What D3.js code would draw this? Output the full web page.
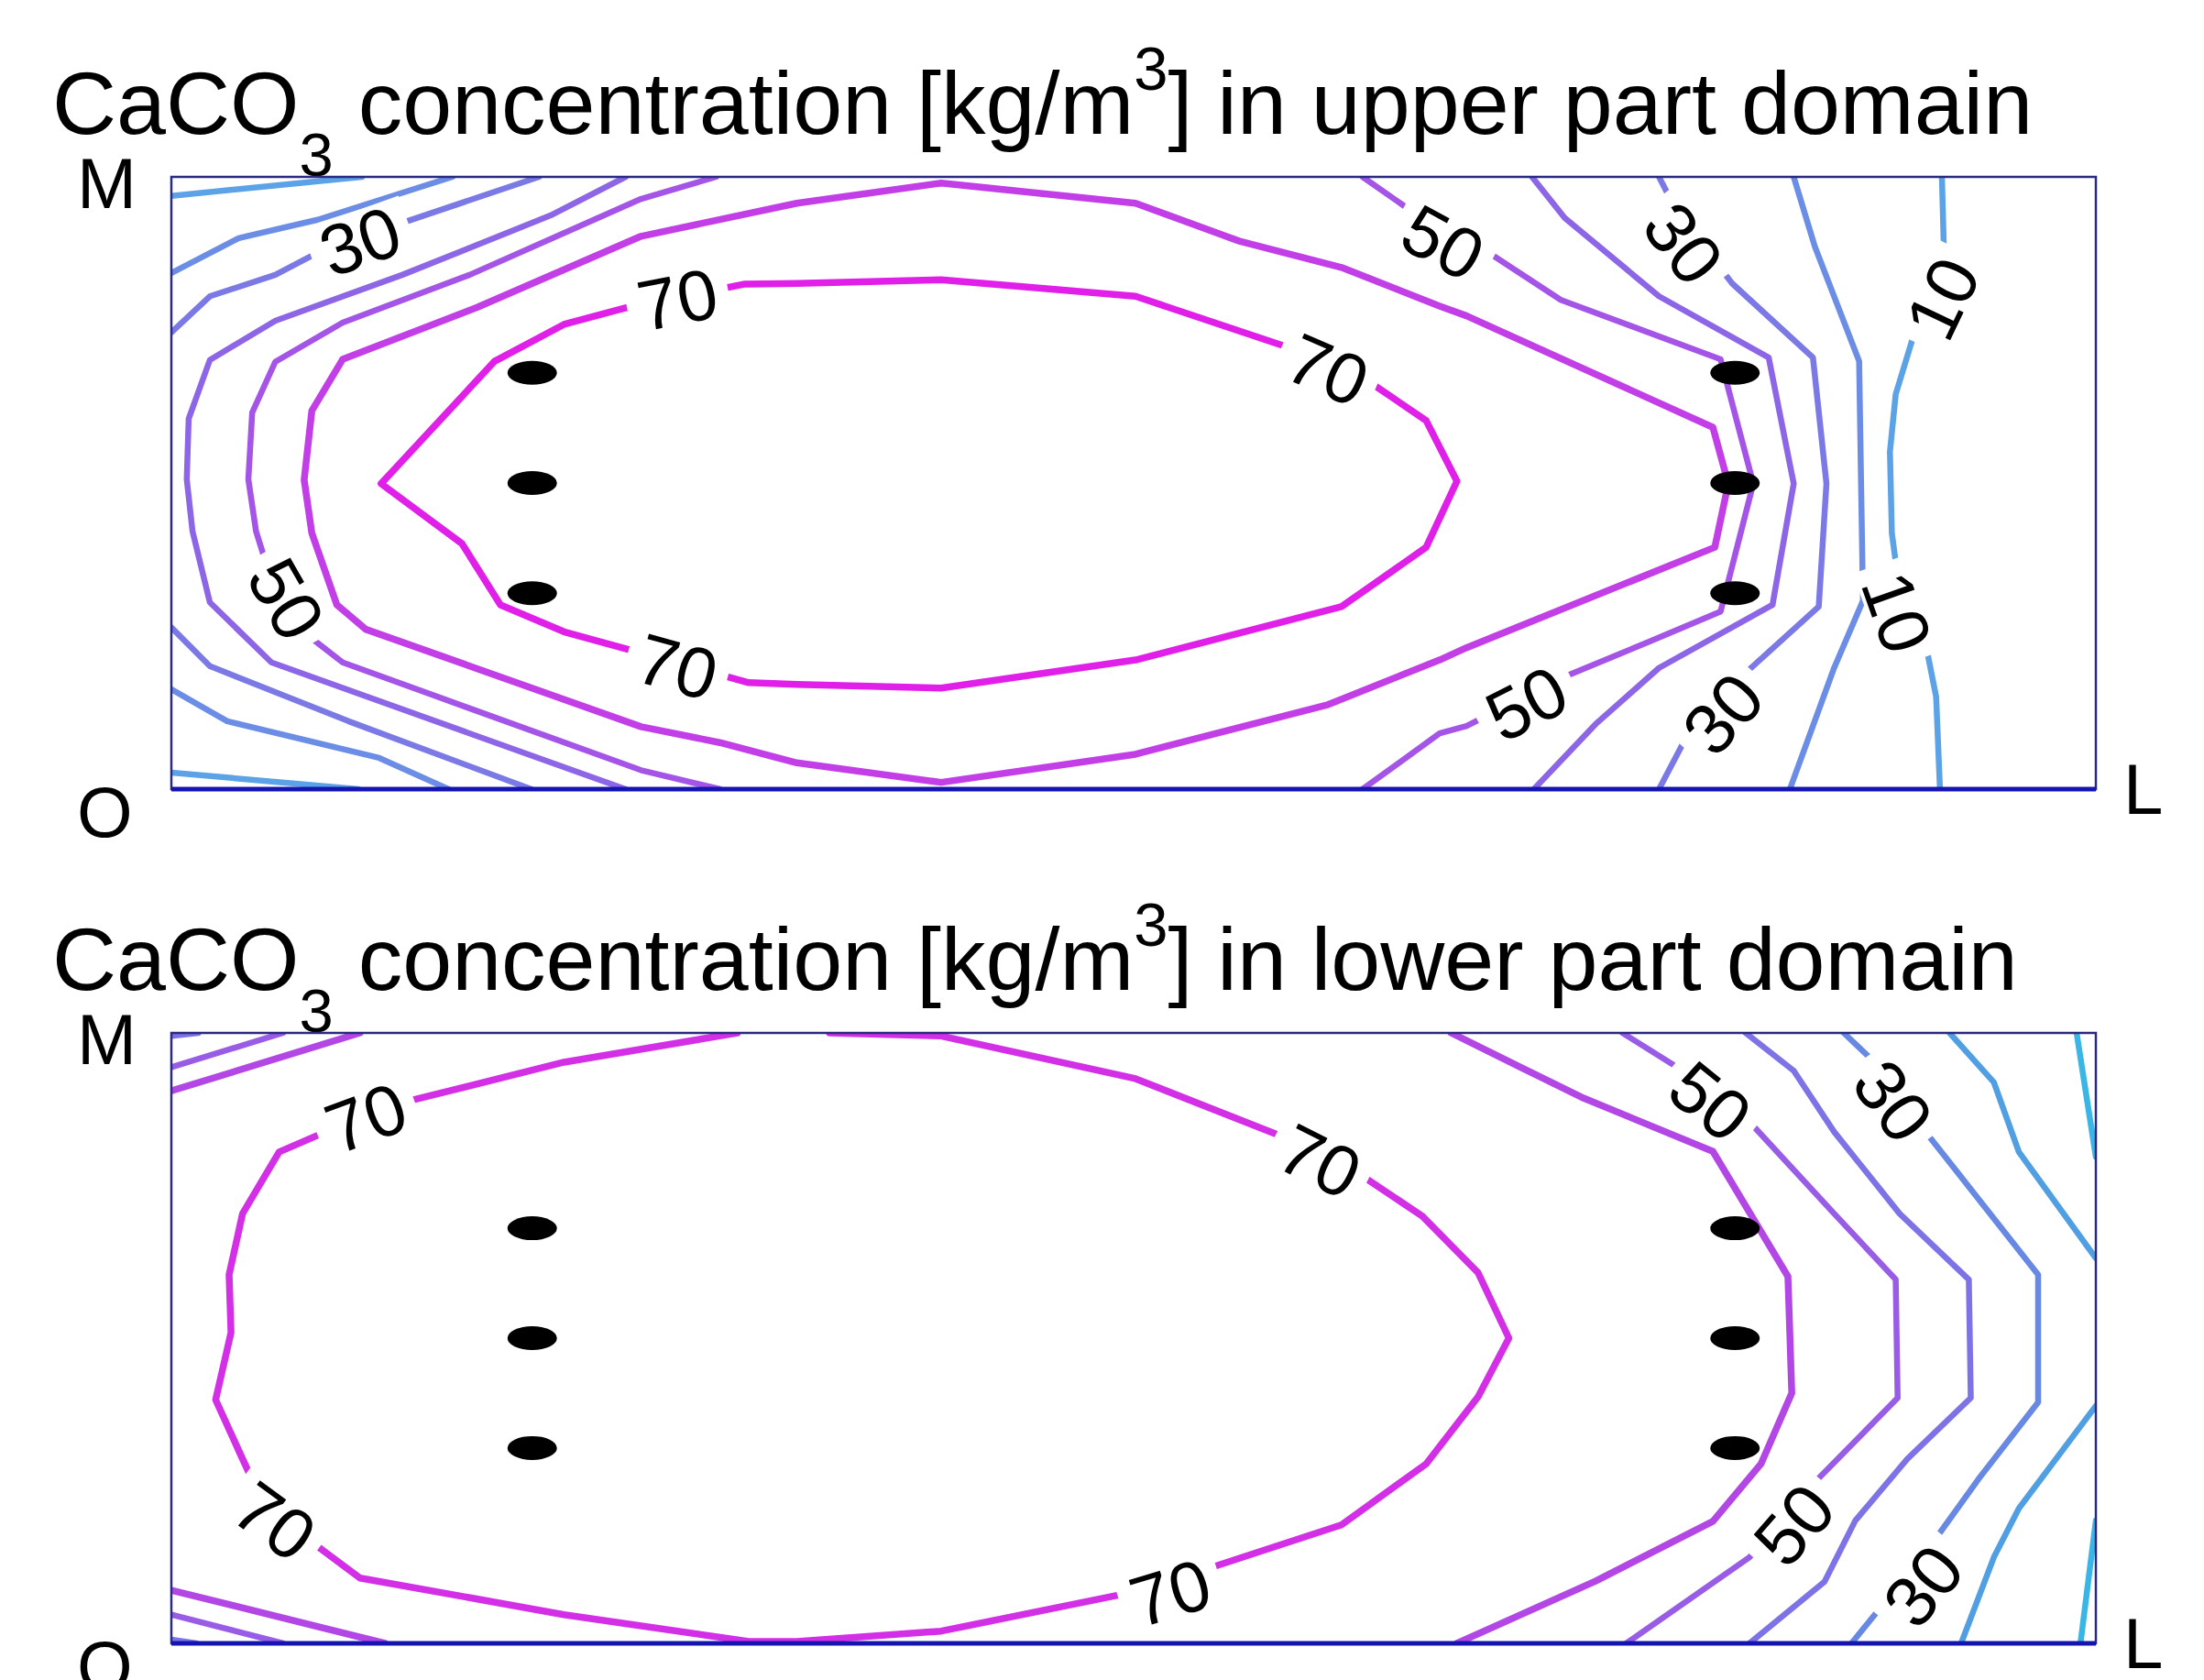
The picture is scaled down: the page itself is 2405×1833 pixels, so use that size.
<!DOCTYPE html>
<html>
<head>
<meta charset="utf-8">
<script src="https://cdn.jsdelivr.net/npm/d3@7"></script>
<style>
  body { margin: 0; background: #fff; }
  svg { display: block; }
  text { font-family: "Liberation Sans", Arial, sans-serif; fill: #000; }
</style>
</head>
<body>
<svg id="chart" width="2405" height="1833"></svg>
<script>
// contour levels and their colours (one colour ramp per panel)
const levels = [10, 20, 30, 40, 50, 60, 70];
const upperColors = ["#5ba2e6", "#6b8de6", "#7b79e6", "#8c66e6", "#a454e6", "#c23ee6", "#e01fe8"];
const lowerColors = ["#3ab6e6", "#519fe3", "#6789e3", "#7d73e6", "#985ce6", "#b247e6", "#d22fe6"];

// well positions, % of length (O-L) and % of height (O-M)
const wellsX = [18.75, 81.25];
const wellsY = [32, 50, 68];

// contour polylines: [level, [[x%, y%], ...]]
const upperContours = [
  [10, [[0, 96.9], [9.9, 100]]],
  [10, [[0, 2.7], [9.7, 0]]],
  [10, [[92.0, 100], [92.1, 88.5], [91.6, 81.0], [90.5, 73.8], [89.6, 64.5], [89.3, 55.1], [89.4, 41.8], [89.6, 37.1], [90.4, 30.1], [91.2, 23.0], [91.7, 15.1], [91.9, 0]]],
  [20, [[0, 84.3], [3.5, 90.0], [7.6, 93.0], [14.6, 100]]],
  [20, [[0, 16.3], [2.9, 11.1], [10.8, 5.1], [14.4, 0]]],
  [20, [[84.3, 100], [85.4, 88.6], [87.7, 69.9], [87.8, 49.9], [87.9, 30.8], [86.4, 19.8], [84.1, 0]]],
  [30, [[0, 74.6], [2.0, 80.5], [5.4, 84.0], [7.4, 87.3], [12.0, 92.5], [19.1, 100]]],
  [30, [[0, 26.4], [2.0, 20.1], [9.2, 11.1], [18.7, 0]]],
  [30, [[77.3, 100], [78.2, 94.5], [81.1, 82.6], [85.3, 70.5], [86.0, 49.9], [85.6, 29.8], [81.8, 19.0], [78.6, 7.8], [77.3, 0]]],
  [40, [[23.6, 100], [19.7, 93.7], [12.0, 84.0], [5.4, 76.5], [2.0, 70.1], [0.9, 60.5], [0.8, 50.6], [1.1, 42.1], [2.0, 30.5], [5.2, 20.7], [15.5, 9.1], [23.6, 0]]],
  [40, [[70.7, 100], [72.4, 93.3], [77.3, 80.5], [83.0, 70.5], [84.3, 49.9], [83.2, 30.1], [77.3, 19.8], [74.0, 10.6], [70.8, 0]]],
  [50, [[28.3, 100], [24.4, 96.4], [15.5, 84.0], [8.9, 76.2], [5.4, 69.8], [4.2, 61.5], [4.0, 50.6], [4.4, 42.1], [4.9, 37.1], [7.1, 25.1], [8.9, 20.7], [15.5, 13.2], [24.4, 3.1], [28.5, 0]]],
  [50, [[61.9, 100], [64.4, 94.5], [68.6, 87.3], [72.2, 79.9], [80.5, 70.2], [82.2, 49.9], [80.5, 29.0], [76.8, 24.1], [72.2, 18.1], [67.3, 10.3], [65.9, 9.1], [61.9, 0]]],
  [60, [[8.9, 70.2], [15.9, 78.7], [24.4, 90.3], [32.5, 95.7], [40.0, 99.0], [50.1, 95.7], [55.5, 89.5], [60.8, 85.2], [65.9, 78.9], [67.3, 77.3], [80.1, 59.1], [80.9, 49.9], [80.2, 39.5], [67.3, 23.1], [65.9, 21.1], [60.1, 13.8], [50.1, 5.7], [40.0, 1.1], [32.5, 4.3], [28.5, 7.6], [24.4, 10.2], [15.5, 20.1], [10.1, 26.1], [8.6, 30.1], [7.3, 41.8], [6.9, 50.5], [7.3, 61.8], [8.9, 70.2]]],
  [70, [[10.9, 49.9], [16.8, 69.9], [20.4, 75.9], [23.6, 78.6], [29.8, 82.5], [32.5, 82.6], [40.0, 83.2], [50.1, 80.5], [58.0, 72.2], [62.4, 66.2], [65.2, 60.2], [66.8, 50.3], [65.2, 39.5], [60.8, 29.8], [50.1, 21.1], [40.0, 16.5], [32.5, 17.1], [30.0, 17.4], [20.4, 25.7], [17.1, 30.1], [15.1, 40.1], [10.9, 49.9]]]
];

const lowerContours = [
  [10, [[99.0, 100], [100, 79.7]]],
  [10, [[100, 20.1], [99.2, 0]]],
  [20, [[92.4, 100], [94.7, 91.9], [96.0, 80.5], [100, 63.1]]],
  [20, [[100, 38.9], [96.0, 22.1], [94.7, 14.1], [93.0, 0]]],
  [30, [[86.9, 100], [88.3, 95.8], [91.3, 83.2], [97.0, 60.4], [97.0, 39.5], [93.9, 26.9], [91.3, 15.5], [87.3, 0]]],
  [40, [[0, 99.5], [1.4, 100]]],
  [40, [[0, 0.6], [1.3, 0]]],
  [40, [[81.8, 100], [84.3, 93.8], [86.4, 83.8], [89.8, 70.4], [93.4, 59.6], [93.5, 40.2], [90.2, 30.2], [87.5, 20.1], [85.9, 10.1], [82.0, 0]]],
  [50, [[0, 94.4], [5.8, 100]]],
  [50, [[0, 4.7], [5.8, 0]]],
  [50, [[75.4, 100], [79.2, 92.5], [82.1, 85.1], [86.4, 70.4], [89.6, 59.6], [89.7, 40.2], [85.3, 26.1], [82.0, 14.1], [75.6, 0]]],
  [60, [[0, 90.5], [9.8, 100]]],
  [60, [[0, 8.7], [11.1, 0]]],
  [60, [[66.5, 100], [70.1, 94.4], [73.4, 89.3], [80.1, 80.6], [84.0, 60.1], [84.2, 41.0], [82.6, 29.4], [80.1, 20.0], [74.0, 10.2], [66.8, 0]]],
  [70, [[29.4, 100], [20.4, 95.2], [12.4, 88.9], [7.8, 83.5], [5.6, 80.5], [3.7, 70.4], [3.0, 60.4], [3.1, 50.9], [2.3, 39.9], [3.7, 30.2], [4.9, 22.1], [7.5, 16.1], [9.8, 10.7], [20.4, 4.7], [30.0, 0.3], [32.5, 0.3], [40.0, 2.0], [49.5, 8.1], [54.1, 12.5], [60.8, 19.4], [65.2, 29.4], [67.9, 40.4], [69.5, 50.0], [67.9, 60.7], [65.0, 70.0], [62.1, 76.1], [57.6, 83.2], [50.1, 92.5], [40.0, 99.5], [34.2, 100]]]
];

// inline contour labels: [level, x%, y%]
const upperLabels = [
  [30, 9.8, 89.6], [50, 6.0, 31.1], [70, 26.3, 80.1], [70, 26.3, 20.1], [70, 60.1, 68.6],
  [50, 66.1, 89.4], [30, 78.6, 89.2], [10, 92.0, 80.2], [10, 89.7, 28.9], [50, 70.4, 14.1], [30, 80.6, 12.4]
];
const lowerLabels = [
  [70, 10.1, 86.2], [70, 5.4, 20.1], [70, 59.7, 79.1], [70, 51.9, 8.4],
  [50, 80.0, 88.9], [50, 84.3, 19.5], [30, 89.5, 88.9], [30, 91.0, 9.5]
];

const svg = d3.select("#chart");
const left = 187, right = 2287;

const panels = [
  { name: "upper", top: 193, bottom: 861, titleY: 146, contours: upperContours, labels: upperLabels, colors: upperColors },
  { name: "lower", top: 1127, bottom: 1793, titleY: 1080, contours: lowerContours, labels: lowerLabels, colors: lowerColors }
];

panels.forEach(p => {
  const x = d3.scaleLinear().domain([0, 100]).range([left, right]);
  const y = d3.scaleLinear().domain([0, 100]).range([p.bottom, p.top]);
  const color = d3.scaleOrdinal().domain(levels).range(p.colors);
  const line = d3.line().x(d => x(d[0])).y(d => y(d[1]));

  // title with sub/superscript
  const t = svg.append("text")
    .attr("x", 57).attr("y", p.titleY)
    .style("font-size", "97px");
  t.append("tspan").text("CaCO");
  t.append("tspan").attr("dy", 46).style("font-size", "67px").text("3");
  t.append("tspan").attr("dy", -46).text(" concentration [kg/m");
  t.append("tspan").attr("dy", -48).style("font-size", "67px").text("3");
  t.append("tspan").attr("dy", 48).text(`] in ${p.name} part domain`);

  // corner letters
  const corner = (txt, cx, cy) => svg.append("text").attr("x", cx).attr("y", cy)
    .style("font-size", "78px").text(txt);
  corner("M", 84, p.top + 34);
  corner("O", 84, p.bottom + 52);
  corner("L", 2317, p.bottom + 27);

  svg.append("clipPath").attr("id", "clip-" + p.name)
    .append("rect").attr("x", left).attr("y", p.top)
    .attr("width", right - left).attr("height", p.bottom - p.top);

  const g = svg.append("g").attr("clip-path", `url(#clip-${p.name})`);

  g.selectAll("path.contour")
    .data(p.contours)
    .enter()
    .append("path")
    .attr("class", "contour")
    .attr("d", d => line(d[1]))
    .style("fill", "none")
    .style("stroke", d => color(d[0]))
    .style("stroke-width", d => d[0] >= 60 ? 7.5 : 6.5)
    .style("stroke-linejoin", "round")
    .style("stroke-linecap", "round");

  // label angle follows the nearest segment of its contour
  const angleFor = lab => {
    const px = x(lab[1]), py = y(lab[2]);
    let best = Infinity, ang = 0;
    p.contours.filter(c => c[0] === lab[0]).forEach(c => {
      const pts = c[1].map(q => [x(q[0]), y(q[1])]);
      for (let i = 0; i < pts.length - 1; i++) {
        const [ax, ay] = pts[i], [bx, by] = pts[i + 1];
        const dx = bx - ax, dy = by - ay;
        const len2 = dx * dx + dy * dy || 1;
        const tt = Math.max(0, Math.min(1, ((px - ax) * dx + (py - ay) * dy) / len2));
        const ex = ax + tt * dx - px, ey = ay + tt * dy - py;
        const dist = ex * ex + ey * ey;
        if (dist < best) { best = dist; ang = Math.atan2(dy, dx) * 180 / Math.PI; }
      }
    });
    if (ang > 90) ang -= 180;
    if (ang < -90) ang += 180;
    return ang;
  };

  const labs = g.selectAll("g.clabel")
    .data(p.labels)
    .enter()
    .append("g")
    .attr("class", "clabel")
    .attr("transform", d => `translate(${x(d[1])},${y(d[2])}) rotate(${angleFor(d)})`);

  labs.append("rect")
    .attr("x", -56).attr("y", -32)
    .attr("width", 112).attr("height", 64)
    .style("fill", "#fff");

  labs.append("text")
    .attr("text-anchor", "middle")
    .attr("dy", "0.36em")
    .style("font-size", "78px")
    .text(d => d[0]);

  // wells
  const wells = wellsX.flatMap(wx => wellsY.map(wy => [wx, wy]));
  svg.append("g").selectAll("ellipse")
    .data(wells)
    .enter()
    .append("ellipse")
    .attr("cx", d => x(d[0]))
    .attr("cy", d => y(d[1]))
    .attr("rx", 27).attr("ry", 13)
    .style("fill", "#000");

  // frame
  svg.append("rect")
    .attr("x", left).attr("y", p.top)
    .attr("width", right - left).attr("height", p.bottom - p.top)
    .style("fill", "none").style("stroke", "#2a2a80").style("stroke-width", 2.5);
  svg.append("line")
    .attr("x1", left).attr("x2", right)
    .attr("y1", p.bottom).attr("y2", p.bottom)
    .style("stroke", "#1414b0").style("stroke-width", 5);
});
</script>
</body>
</html>
